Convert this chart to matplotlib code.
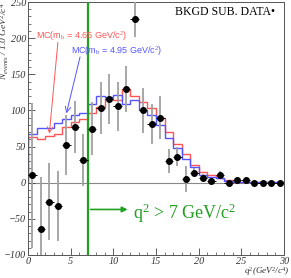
import numpy as np
import matplotlib
matplotlib.use('Agg')
import matplotlib.pyplot as plt

plt.rcParams['mathtext.fontset'] = 'custom'
plt.rcParams['mathtext.rm'] = 'Liberation Serif'
plt.rcParams['mathtext.it'] = 'Liberation Serif:italic'

# q^2 bins, 1 GeV^2/c^4 wide
edges = np.arange(0, 31, 1)
centers = edges[:-1] + 0.5

# background subtracted data
data = [10, -64, -26, -32, 52, 77, 32, 75, 104, 116, 106, 130, 226, 100, 81, 90,
        30, 36, 5, 14, 7, 2, 11, 0, 4, 4, 0, 0, 0, 0]
data_err = [100, 72, 53, 48, 41, 36, 36, 37, 36, 35, 34, 32, 25, 31, 28, 30,
            16, 13, 18, 6, 5, 4, 5, 2, 3, 3, 1, 1, 1, 1]

# MC shapes
mc_465 = [63, 60, 64, 68, 77, 84, 88, 96, 105, 117, 115, 130, 120, 112, 103, 90,
          70, 54, 40, 25, 15, 10, 7, 4, 1.5, 1, 0.5, 0.5, 0.5, 0.5]
mc_495 = [67, 76, 76, 82, 88, 94, 96, 109, 120, 118, 122, 109, 115, 101, 94, 80,
          62, 48, 33, 22, 11, 8, 6, 2.5, 1, 0.5, 0.3, 0.3, 0.3, 0.3]

q2_cut = 7

red = '#ff5555'
blue = '#5555ff'
green = '#22a022'

fig = plt.figure(figsize=(2.91, 2.78), dpi=100)
ax = fig.add_axes([28 / 291, 1 - 255 / 278, 256 / 291, 253 / 278])

ax.axhline(0, color='#888888', lw=0.8, zorder=1)
ax.stairs(mc_465, edges, baseline=0, color=red, lw=1.0, zorder=2)
ax.stairs(mc_495, edges, baseline=0, color=blue, lw=1.0, zorder=2)
ax.axvline(q2_cut, color=green, lw=1.6, zorder=3)

ax.errorbar(centers, data, yerr=data_err, fmt='none', ecolor='#a0a0a0', elinewidth=1.3, zorder=4)
ax.errorbar(centers, data, xerr=0.5, fmt='o', color='black', ms=4, elinewidth=0.7, zorder=5)

ax.set_xlim(0, 30)
ax.set_ylim(-100, 250)
ax.set_xticks(np.arange(0, 31, 5))
ax.set_xticks(np.arange(0, 31, 1), minor=True)
ax.set_yticks(np.arange(-100, 251, 50))
ax.set_yticks(np.arange(-100, 251, 10), minor=True)
ax.tick_params(direction='in', length=5, width=0.6, color='#444444', labelsize=7.3, pad=1.5)
ax.tick_params(which='minor', direction='in', length=2.5, width=0.5, color='#444444')
for lab in ax.get_xticklabels() + ax.get_yticklabels():
    lab.set_family('Liberation Serif')
    lab.set_style('italic')
    lab.set_color('#333333')
for s in ax.spines.values():
    s.set_linewidth(0.7)
    s.set_color('#555555')

# cut arrow and label
ax.annotate('', xy=(12, -37), xytext=(q2_cut, -37),
            arrowprops=dict(arrowstyle='-|>', color=green, lw=1.2, mutation_scale=8))
ax.text(12.3, -42, r'q$^{2}$ > 7 GeV/c$^{2}$', color=green, fontsize=13,
        family='Liberation Serif', va='center', ha='left')

# MC labels with arrows
ax.text(0.9, 204, r'MC(m$_{\rm b}$ = 4.65 GeV/c$^{2}$)', color=red, fontsize=6.5,
        family='Liberation Sans', va='center', ha='left')
ax.annotate('', xy=(2.5, 68), xytext=(3.5, 194),
            arrowprops=dict(arrowstyle='->', color=red, lw=0.7, shrinkA=0, shrinkB=0))
ax.text(5.0, 183, r'MC(m$_{\rm b}$ = 4.95 GeV/c$^{2}$)', color=blue, fontsize=6.5,
        family='Liberation Sans', va='center', ha='left')
ax.annotate('', xy=(4.5, 96), xytext=(6.1, 174),
            arrowprops=dict(arrowstyle='->', color=blue, lw=0.7, shrinkA=0, shrinkB=0))

ax.text(29.0, 236, 'BKGD SUB. DATA\u2022', fontsize=8.5, family='Liberation Serif',
        ha='right', va='center')

fig.text(0.017, 0.99, r'$N_{events}$ / 1.0 GeV$^{2}$/c$^{4}$', rotation=90,
         fontsize=6.8, family='Liberation Serif', style='italic', ha='center', va='top',
         color='#333333')
fig.text(0.995, 0.0, r'q$^{2}$(GeV$^{2}$/c$^{4}$)', fontsize=6.6, family='Liberation Serif',
         style='italic', ha='right', va='bottom', color='#333333')

fig.savefig('out.png', dpi=100)
